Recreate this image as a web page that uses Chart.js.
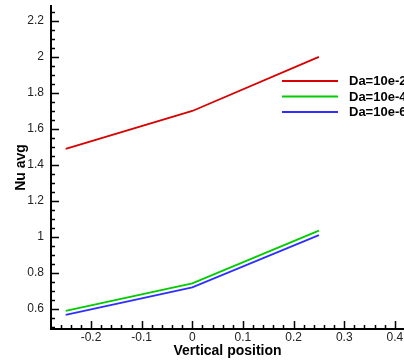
<!DOCTYPE html>
<html>
<head>
<meta charset="utf-8">
<script src="https://cdn.jsdelivr.net/npm/chart.js@4/dist/chart.umd.min.js"></script>
<style>
html,body{margin:0;padding:0;background:#fff;}
#wrap{width:404px;height:360px;}
</style>
</head>
<body>
<div id="wrap"><canvas id="c" width="404" height="360"></canvas></div>
<script>
// ---- data ----
const positions = [-0.25, 0, 0.25];
const seriesLabels = ['Da=10e-2', 'Da=10e-4', 'Da=10e-6'];
const nuDa2 = [1.49, 1.70, 2.00];
const nuDa4 = [0.59, 0.743, 1.035];
const nuDa6 = [0.568, 0.72, 1.01];
const xTickValues = [-0.2, -0.1, 0, 0.1, 0.2, 0.3, 0.4];
const yTickValues = [0.6, 0.8, 1.0, 1.2, 1.4, 1.6, 1.8, 2.0, 2.2];
const xTitle = 'Vertical position';
const yTitle = 'Nu avg';
const colors = ['#d80000', '#00cc00', '#2e2eff'];

const seriesValues = [nuDa2, nuDa4, nuDa6];
const datasets = seriesValues.map((vals, i) => ({
  label: seriesLabels[i],
  data: positions.map((p, j) => ({x: p, y: vals[j]})),
  borderColor: colors[i],
  backgroundColor: colors[i],
  borderWidth: 1.8,
  pointRadius: 0,
  tension: 0,
  fill: false
}));

const fmt = v => String(Number(v.toFixed(2)));

// inward major/minor ticks
const tickPlugin = {
  id: 'inwardTicks',
  afterDraw(chart) {
    const ctx = chart.ctx;
    const xs = chart.scales.x, ys = chart.scales.y;
    const a = chart.chartArea;
    ctx.save();
    ctx.strokeStyle = '#000';
    ctx.lineWidth = 1.5;
    ctx.beginPath();
    for (let k = Math.ceil(xs.min / 0.02); k * 0.02 <= xs.max + 1e-9; k++) {
      const v = k * 0.02;
      const px = Math.round(xs.getPixelForValue(v)) + 0.5;
      const major = k % 5 === 0;
      ctx.moveTo(px, a.bottom);
      ctx.lineTo(px, a.bottom - (major ? 8 : 4));
    }
    for (let k = Math.ceil(ys.min / 0.05); k * 0.05 <= ys.max + 1e-9; k++) {
      const v = k * 0.05;
      const py = Math.round(ys.getPixelForValue(v)) + 0.5;
      const major = k % 4 === 0;
      ctx.moveTo(a.left, py);
      ctx.lineTo(a.left + (major ? 8 : 4), py);
    }
    ctx.stroke();
    ctx.restore();
  }
};

// custom legend
const legendPlugin = {
  id: 'customLegend',
  afterDraw(chart) {
    const ctx = chart.ctx;
    ctx.save();
    ctx.font = 'bold 13px "Liberation Sans", Arial, sans-serif';
    ctx.textBaseline = 'middle';
    chart.data.datasets.forEach((ds, i) => {
      const y = 81 + i * 15.5;
      ctx.strokeStyle = ds.borderColor;
      ctx.lineWidth = 1.8;
      ctx.beginPath();
      ctx.moveTo(282, y);
      ctx.lineTo(338, y);
      ctx.stroke();
      ctx.fillStyle = '#000';
      ctx.fillText(ds.label, 349, y + 0.5);
    });
    ctx.restore();
  }
};

new Chart(document.getElementById('c'), {
  type: 'line',
  data: {datasets},
  options: {
    responsive: false,
    animation: false,
    layout: {padding: {top: 6, right: 0, left: 0, bottom: 0}},
    plugins: {legend: {display: false}, tooltip: {enabled: false}},
    scales: {
      x: {
        type: 'linear',
        min: -0.279,
        max: 0.418,
        afterBuildTicks: s => { s.ticks = xTickValues.map(v => ({value: v})); },
        afterFit: s => { s.height = 31; s.paddingLeft = 0; s.paddingRight = 0; },
        ticks: {
          callback: v => fmt(v),
          color: '#222',
          padding: 1,
          maxRotation: 0,
          autoSkip: false,
          font: {family: '"Liberation Sans", Arial, sans-serif', size: 12}
        },
        grid: {display: false, drawTicks: false},
        border: {display: true, color: '#000', width: 2},
        title: {
          display: true,
          text: xTitle,
          color: '#000',
          padding: {top: 0, bottom: 0},
          font: {family: '"Liberation Sans", Arial, sans-serif', size: 14, weight: 'bold'}
        }
      },
      y: {
        type: 'linear',
        min: 0.489,
        max: 2.283,
        afterBuildTicks: s => { s.ticks = yTickValues.map(v => ({value: v})); },
        afterFit: s => { s.width = 51; s.paddingTop = 0; s.paddingBottom = 0; },
        ticks: {
          callback: v => fmt(v),
          color: '#222',
          padding: 7,
          autoSkip: false,
          font: {family: '"Liberation Sans", Arial, sans-serif', size: 12}
        },
        grid: {display: false, drawTicks: false},
        border: {display: true, color: '#000', width: 2},
        title: {
          display: true,
          text: yTitle,
          color: '#000',
          padding: {top: 13, bottom: 0},
          font: {family: '"Liberation Sans", Arial, sans-serif', size: 14, weight: 'bold'}
        }
      }
    }
  },
  plugins: [tickPlugin, legendPlugin]
});
</script>
</body>
</html>
